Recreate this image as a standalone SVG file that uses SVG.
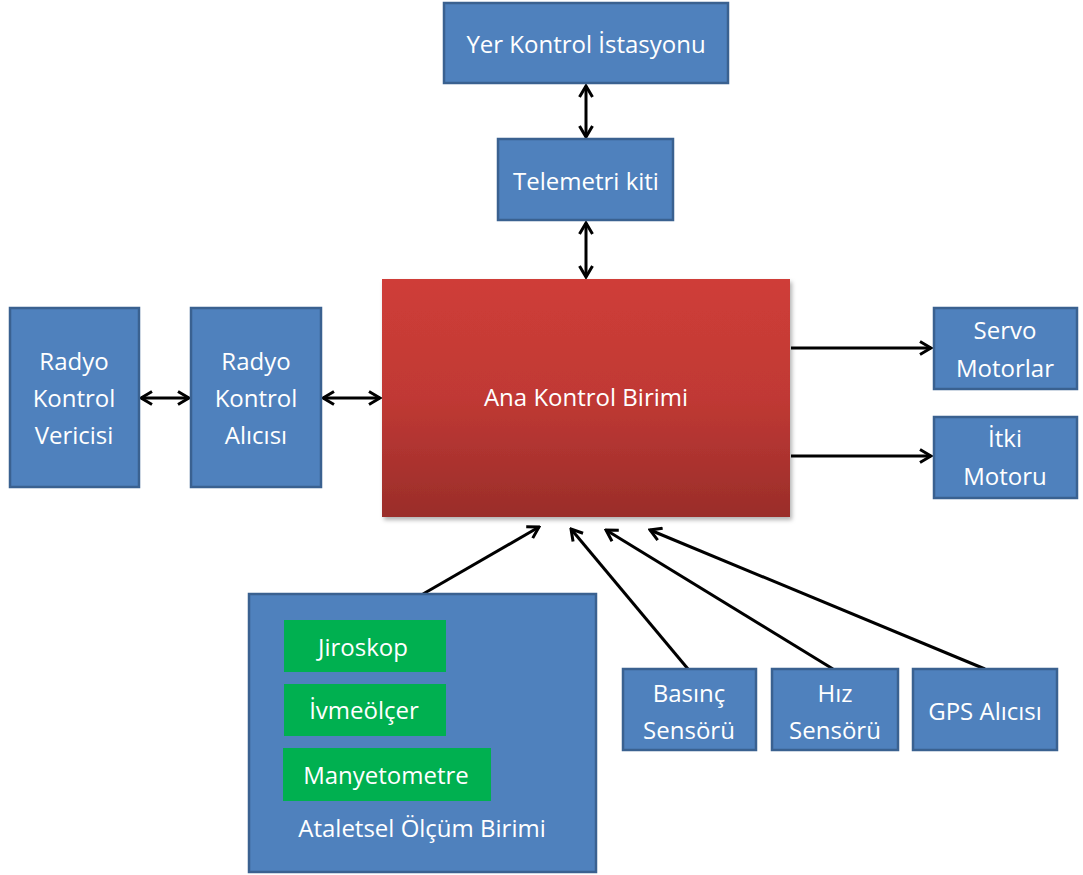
<svg xmlns="http://www.w3.org/2000/svg" width="1083" height="875" viewBox="0 0 1083 875">
<style>
.box{fill:#4F81BD;stroke:#3A6190;stroke-width:2.5}
.grn{fill:#00B050}
.t{font-family:"Open Sans","Noto Sans",sans-serif;font-size:24px;fill:#ffffff;text-anchor:middle}
.c{fill:none;stroke:#000;stroke-width:3}
</style>
<defs>
<linearGradient id="red" x1="0" y1="0" x2="0" y2="1">
<stop offset="0" stop-color="#CF3D38"/>
<stop offset="0.5" stop-color="#C03934"/>
<stop offset="1" stop-color="#9A2D2A"/>
</linearGradient>
<filter id="sh" x="-5%" y="-5%" width="115%" height="115%">
<feDropShadow dx="2" dy="3" stdDeviation="2" flood-color="#000" flood-opacity="0.3"/>
</filter>
<marker id="ah" viewBox="0 0 16 16" markerUnits="userSpaceOnUse" markerWidth="16" markerHeight="16" refX="14" refY="8" orient="auto-start-reverse">
<path d="M3,1.5 L14,8 L3,14.5" fill="none" stroke="#000" stroke-width="3"/>
</marker>
</defs>
<rect width="1083" height="875" fill="#ffffff"/>

<g id="connectors">
<line class="c" x1="586" y1="86" x2="586" y2="137" marker-start="url(#ah)" marker-end="url(#ah)"/>
<line class="c" x1="586" y1="223" x2="586" y2="277" marker-start="url(#ah)" marker-end="url(#ah)"/>
<line class="c" x1="141" y1="398" x2="189" y2="398" marker-start="url(#ah)" marker-end="url(#ah)"/>
<line class="c" x1="323" y1="398" x2="380" y2="398" marker-start="url(#ah)" marker-end="url(#ah)"/>
<line class="c" x1="791" y1="348" x2="931" y2="348" marker-end="url(#ah)"/>
<line class="c" x1="791" y1="456" x2="931" y2="456" marker-end="url(#ah)"/>
<line class="c" x1="423" y1="594" x2="539" y2="527" marker-end="url(#ah)"/>
<line class="c" x1="688" y1="669" x2="571" y2="529" marker-end="url(#ah)"/>
<line class="c" x1="833" y1="669" x2="606" y2="530" marker-end="url(#ah)"/>
<line class="c" x1="985" y1="669" x2="650" y2="530" marker-end="url(#ah)"/>
</g>

<g id="yer">
<rect class="box" x="444" y="3" width="284" height="80"/>
<text class="t" x="586" y="53">Yer Kontrol İstasyonu</text>
</g>
<g id="telemetri">
<rect class="box" x="498" y="139" width="175" height="81"/>
<text class="t" x="586" y="190">Telemetri kiti</text>
</g>
<g id="ana">
<rect x="382" y="279" width="408" height="238" fill="url(#red)" filter="url(#sh)"/>
<text class="t" x="586" y="406">Ana Kontrol Birimi</text>
</g>
<g id="verici">
<rect class="box" x="10" y="308" width="129" height="179"/>
<text class="t" x="74" y="370">Radyo</text>
<text class="t" x="74" y="407">Kontrol</text>
<text class="t" x="74" y="444">Vericisi</text>
</g>
<g id="alici">
<rect class="box" x="191" y="308" width="130" height="179"/>
<text class="t" x="256" y="370">Radyo</text>
<text class="t" x="256" y="407">Kontrol</text>
<text class="t" x="256" y="444">Alıcısı</text>
</g>
<g id="servo">
<rect class="box" x="934" y="308" width="143" height="81"/>
<text class="t" x="1005" y="339">Servo</text>
<text class="t" x="1005" y="377">Motorlar</text>
</g>
<g id="itki">
<rect class="box" x="934" y="417" width="143" height="81"/>
<text class="t" x="1005" y="447">İtki</text>
<text class="t" x="1005" y="485">Motoru</text>
</g>
<g id="imu">
<rect class="box" x="249" y="594" width="347" height="278"/>
<text class="t" x="422" y="837">Ataletsel Ölçüm Birimi</text>
</g>
<g id="jiroskop">
<rect class="grn" x="284" y="620" width="162" height="52"/>
<text class="t" x="363" y="656">Jiroskop</text>
</g>
<g id="ivmeolcer">
<rect class="grn" x="284" y="684" width="162" height="52"/>
<text class="t" x="364" y="719">İvmeölçer</text>
</g>
<g id="manyetometre">
<rect class="grn" x="283" y="748" width="208" height="53"/>
<text class="t" x="386" y="784">Manyetometre</text>
</g>
<g id="basinc">
<rect class="box" x="623" y="669" width="133" height="81"/>
<text class="t" x="689" y="702">Basınç</text>
<text class="t" x="689" y="739">Sensörü</text>
</g>
<g id="hiz">
<rect class="box" x="772" y="669" width="126" height="81"/>
<text class="t" x="835" y="702">Hız</text>
<text class="t" x="835" y="739">Sensörü</text>
</g>
<g id="gps">
<rect class="box" x="913" y="669" width="144" height="81"/>
<text class="t" x="985" y="720">GPS Alıcısı</text>
</g>
</svg>
